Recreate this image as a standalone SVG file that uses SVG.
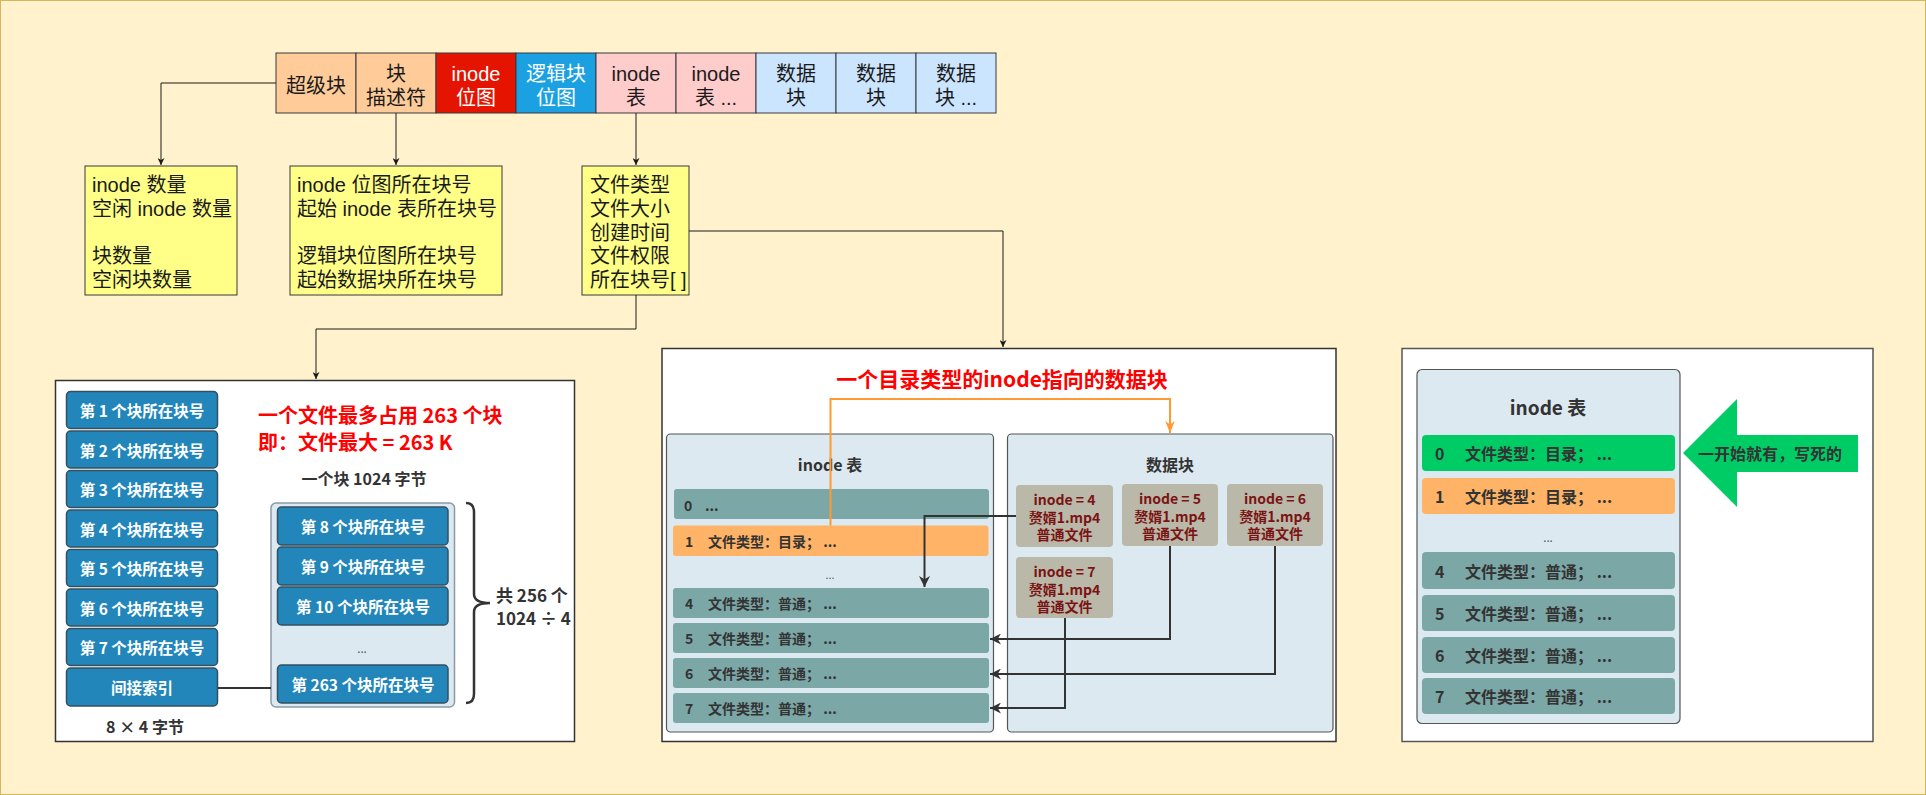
<svg xmlns="http://www.w3.org/2000/svg" width="1926" height="795" viewBox="0 0 1926 795">
<defs>
<style>
.top{font-family:"Liberation Sans","Noto Sans CJK SC",sans-serif;font-size:20px;fill:#1a1a1a}
.w{fill:#ffffff}
.cell{stroke:#36393d;stroke-width:1}
.ybox{fill:#ffff88;stroke:#36393d;stroke-width:1}
.ln{fill:none;stroke:#1a1a1a;stroke-width:1}
.b{font-family:"Noto Sans CJK SC","Noto Sans",sans-serif;font-weight:bold;fill:#333333}
.blue{fill:#2286ba;stroke:#34505f;stroke-width:1.5}
.bt{font-family:"Noto Sans CJK SC","Noto Sans",sans-serif;font-weight:bold;font-size:15.5px;fill:#ffffff}
.panel{fill:#ffffff;stroke:#333333;stroke-width:1.5}
.tbl{fill:#dce9f1;stroke:#555555;stroke-width:1.2}
.teal{fill:#7ba7a7}
.org{fill:#ffb366}
.grn{fill:#00cc66}
.dbox{fill:#bab8a8}
.dt{font-family:"Noto Sans CJK SC","Noto Sans",sans-serif;font-weight:bold;font-size:14px;fill:#7a1414}
.conn{fill:none;stroke:#333333;stroke-width:2}
</style>
<marker id="ar" viewBox="0 0 10 10" refX="10" refY="5" markerWidth="7" markerHeight="7" markerUnits="userSpaceOnUse" orient="auto"><path d="M0,0 L10,5 L0,10 L3,5 z" fill="#1a1a1a"/></marker>
<marker id="ar2" viewBox="0 0 10 10" refX="10" refY="5" markerWidth="11" markerHeight="11" markerUnits="userSpaceOnUse" orient="auto"><path d="M0,0 L10,5 L0,10 L3,5 z" fill="#333333"/></marker>
<marker id="aro" viewBox="0 0 10 10" refX="10" refY="5" markerWidth="14" markerHeight="12" markerUnits="userSpaceOnUse" orient="auto"><path d="M0,1 L10,5 L0,9 L3,5 z" fill="#ff9933"/></marker>
</defs>
<rect x="0.5" y="0.5" width="1925" height="794" fill="#fff2cc" stroke="#d6b656" stroke-width="1"/>

<g id="strip">
<rect class="cell" x="276" y="53" width="80" height="60" fill="#ffcc99"/>
<rect class="cell" x="356" y="53" width="80" height="60" fill="#ffcc99"/>
<rect class="cell" x="436" y="53" width="80" height="60" fill="#e51400"/>
<rect class="cell" x="516" y="53" width="80" height="60" fill="#1ba1e2"/>
<rect class="cell" x="596" y="53" width="80" height="60" fill="#ffcccc"/>
<rect class="cell" x="676" y="53" width="80" height="60" fill="#ffcccc"/>
<rect class="cell" x="756" y="53" width="80" height="60" fill="#cce5ff"/>
<rect class="cell" x="836" y="53" width="80" height="60" fill="#cce5ff"/>
<rect class="cell" x="916" y="53" width="80" height="60" fill="#cce5ff"/>
<g class="top" text-anchor="middle" dominant-baseline="central">
<text x="316" y="86">超级块</text>
<text x="396" y="74">块</text><text x="396" y="98">描述符</text>
<text class="top w" x="476" y="74">inode</text><text class="top w" x="476" y="98">位图</text>
<text class="top w" x="556" y="74">逻辑块</text><text class="top w" x="556" y="98">位图</text>
<text x="636" y="74">inode</text><text x="636" y="98">表</text>
<text x="716" y="74">inode</text><text x="716" y="98">表 ...</text>
<text x="796" y="74">数据</text><text x="796" y="98">块</text>
<text x="876" y="74">数据</text><text x="876" y="98">块</text>
<text x="956" y="74">数据</text><text x="956" y="98">块 ...</text>
</g>
</g>

<g id="superblock-info">
<rect class="ybox" x="85" y="166" width="152" height="129"/>
<g class="top" dominant-baseline="central">
<text x="92" y="185">inode 数量</text>
<text x="92" y="208.8">空闲 inode 数量</text>
<text x="92" y="256.4">块数量</text>
<text x="92" y="280.2">空闲块数量</text>
</g>
</g>

<g id="desc-info">
<rect class="ybox" x="290" y="166" width="212" height="129"/>
<g class="top" dominant-baseline="central">
<text x="297" y="185">inode 位图所在块号</text>
<text x="297" y="208.8">起始 inode 表所在块号</text>
<text x="297" y="256.4">逻辑块位图所在块号</text>
<text x="297" y="280.2">起始数据块所在块号</text>
</g>
</g>

<g id="inode-info">
<rect class="ybox" x="582" y="166" width="107" height="129"/>
<g class="top" dominant-baseline="central">
<text x="590" y="185">文件类型</text>
<text x="590" y="208.8">文件大小</text>
<text x="590" y="232.6">创建时间</text>
<text x="590" y="256.4">文件权限</text>
<text x="590" y="280.2">所在块号[ ]</text>
</g>
</g>

<g id="top-connectors">
<path class="ln" d="M276,83 H161 V165" marker-end="url(#ar)"/>
<path class="ln" d="M396,113 V165" marker-end="url(#ar)"/>
<path class="ln" d="M636,113 V165" marker-end="url(#ar)"/>
<path class="ln" d="M689,231 H1003 V347" marker-end="url(#ar)"/>
<path class="ln" d="M636,295 V329 H316 V379" marker-end="url(#ar)"/>
</g>

<g id="panel1">
<rect class="panel" x="55.5" y="380.5" width="519" height="361"/>
<g id="direct-blocks">
<rect class="blue" x="66.5" y="391.5" width="151" height="37" rx="4"/>
<rect class="blue" x="66.5" y="431" width="151" height="37" rx="4"/>
<rect class="blue" x="66.5" y="470.5" width="151" height="37" rx="4"/>
<rect class="blue" x="66.5" y="510" width="151" height="37" rx="4"/>
<rect class="blue" x="66.5" y="549.5" width="151" height="37" rx="4"/>
<rect class="blue" x="66.5" y="589" width="151" height="37" rx="4"/>
<rect class="blue" x="66.5" y="628.5" width="151" height="37" rx="4"/>
<rect class="blue" x="66.5" y="668" width="151" height="38" rx="4"/>
<g class="bt" text-anchor="middle" dominant-baseline="central">
<text x="142" y="410">第 1 个块所在块号</text>
<text x="142" y="449.5">第 2 个块所在块号</text>
<text x="142" y="489">第 3 个块所在块号</text>
<text x="142" y="528.5">第 4 个块所在块号</text>
<text x="142" y="568">第 5 个块所在块号</text>
<text x="142" y="607.5">第 6 个块所在块号</text>
<text x="142" y="647">第 7 个块所在块号</text>
<text x="142" y="687">间接索引</text>
</g>
</g>
<text class="b" x="145" y="726" font-size="16" text-anchor="middle" dominant-baseline="central">8 × 4 字节</text>
<g font-family="Noto Sans CJK SC, Noto Sans, sans-serif" font-weight="bold" font-size="20" fill="#ff0000" dominant-baseline="central">
<text x="258" y="414">一个文件最多占用 263 个块</text>
<text x="258" y="441">即：文件最大 = 263 K</text>
</g>
<text class="b" x="364" y="478" font-size="16" text-anchor="middle" dominant-baseline="central">一个块 1024 字节</text>
<g id="indirect-block">
<rect x="271" y="503" width="183.5" height="204" rx="5" fill="#dce9f1" stroke="#8a9aa6" stroke-width="1.5"/>
<rect class="blue" x="277.5" y="507" width="170.5" height="38" rx="4"/>
<rect class="blue" x="277.5" y="547" width="170.5" height="38" rx="4"/>
<rect class="blue" x="277.5" y="587" width="170.5" height="38" rx="4"/>
<rect class="blue" x="277.5" y="665" width="170.5" height="38" rx="4"/>
<g class="bt" text-anchor="middle" dominant-baseline="central">
<text x="363" y="526">第 8 个块所在块号</text>
<text x="363" y="566">第 9 个块所在块号</text>
<text x="363" y="606">第 10 个块所在块号</text>
<text x="363" y="684">第 263 个块所在块号</text>
</g>
<text x="362" y="648" font-family="Noto Sans, sans-serif" font-size="12" fill="#555555" text-anchor="middle" dominant-baseline="central">...</text>
</g>
<path d="M466,503 Q474,503 474,512 V594 Q474,603 490,603 Q474,603 474,612 V694 Q474,703 466,703" fill="none" stroke="#333333" stroke-width="2.5"/>
<g class="b" font-size="17" dominant-baseline="central">
<text x="496" y="594">共 256 个</text>
<text x="496" y="617">1024 ÷ 4</text>
</g>
<path d="M218,688 H271" fill="none" stroke="#333333" stroke-width="2"/>
</g>

<g id="panel2">
<rect class="panel" x="662" y="348.5" width="674" height="393"/>
<text x="1002" y="378" font-family="Noto Sans CJK SC, Noto Sans, sans-serif" font-weight="bold" font-size="21" fill="#ff0000" text-anchor="middle" dominant-baseline="central">一个目录类型的inode指向的数据块</text>
<g id="p2-inode-table">
<rect class="tbl" x="666.5" y="434" width="327" height="298" rx="4"/>
<text class="b" x="830" y="464" font-size="16" text-anchor="middle" dominant-baseline="central">inode 表</text>
<rect class="teal" x="674" y="489" width="315" height="30" rx="3"/>
<rect class="org" x="673" y="525.5" width="315.5" height="30.5" rx="3"/>
<text x="830" y="574" font-family="Noto Sans, sans-serif" font-size="11" fill="#555555" text-anchor="middle" dominant-baseline="central">...</text>
<rect class="teal" x="673" y="588" width="316" height="30" rx="3"/>
<rect class="teal" x="673" y="623" width="316" height="30" rx="3"/>
<rect class="teal" x="673" y="658" width="316" height="30" rx="3"/>
<rect class="teal" x="673" y="693" width="316" height="30" rx="3"/>
<g class="b" font-size="14" dominant-baseline="central">
<text x="684" y="505">0</text><text x="705" y="505">...</text>
<text x="685" y="541">1</text><text x="708" y="541">文件类型：目录； ...</text>
<text x="685" y="603">4</text><text x="708" y="603">文件类型：普通； ...</text>
<text x="685" y="638">5</text><text x="708" y="638">文件类型：普通； ...</text>
<text x="685" y="673">6</text><text x="708" y="673">文件类型：普通； ...</text>
<text x="685" y="708">7</text><text x="708" y="708">文件类型：普通； ...</text>
</g>
</g>
<g id="p2-data-blocks">
<rect class="tbl" x="1007.5" y="434" width="325.5" height="298" rx="4"/>
<text class="b" x="1170" y="464" font-size="16" text-anchor="middle" dominant-baseline="central">数据块</text>
<rect class="dbox" x="1016" y="485" width="97" height="62" rx="4"/>
<rect class="dbox" x="1122" y="484" width="96" height="62" rx="4"/>
<rect class="dbox" x="1227" y="484" width="96" height="62" rx="4"/>
<rect class="dbox" x="1016" y="557" width="97" height="61" rx="4"/>
<g class="dt" text-anchor="middle" dominant-baseline="central">
<text x="1064.5" y="499">inode = 4</text><text x="1064.5" y="516.5">赘婿1.mp4</text><text x="1064.5" y="533.5">普通文件</text>
<text x="1170" y="498">inode = 5</text><text x="1170" y="515.5">赘婿1.mp4</text><text x="1170" y="532.5">普通文件</text>
<text x="1275" y="498">inode = 6</text><text x="1275" y="515.5">赘婿1.mp4</text><text x="1275" y="532.5">普通文件</text>
<text x="1064.5" y="571">inode = 7</text><text x="1064.5" y="588.5">赘婿1.mp4</text><text x="1064.5" y="605.5">普通文件</text>
</g>
</g>
<g id="p2-connectors">
<path d="M830.5,525.5 V399 H1170 V433" fill="none" stroke="#ff9933" stroke-width="2" marker-end="url(#aro)"/>
<path class="conn" d="M1016,516 H924.5 V587" marker-end="url(#ar2)"/>
<path class="conn" d="M1170,546 V639 H990" marker-end="url(#ar2)"/>
<path class="conn" d="M1275,546 V674 H990" marker-end="url(#ar2)"/>
<path class="conn" d="M1065,618 V708 H990" marker-end="url(#ar2)"/>
</g>
</g>

<g id="panel3">
<rect x="1402" y="348.5" width="471" height="393" fill="#ffffff" stroke="#555555" stroke-width="1.5"/>
<g id="p3-inode-table">
<rect class="tbl" x="1417" y="369.5" width="263" height="354" rx="5"/>
<text class="b" x="1548" y="406" font-size="19" text-anchor="middle" dominant-baseline="central">inode 表</text>
<rect class="grn" x="1422" y="435" width="253" height="36" rx="4"/>
<rect class="org" x="1422" y="478" width="253" height="36" rx="4"/>
<text x="1548" y="537" font-family="Noto Sans, sans-serif" font-size="12" fill="#555555" text-anchor="middle" dominant-baseline="central">...</text>
<rect class="teal" x="1422" y="552" width="253" height="37" rx="4"/>
<rect class="teal" x="1422" y="595" width="253" height="36" rx="4"/>
<rect class="teal" x="1422" y="637" width="253" height="36" rx="4"/>
<rect class="teal" x="1422" y="678" width="253" height="36" rx="4"/>
<g class="b" font-size="16" dominant-baseline="central">
<text x="1435" y="453">0</text><text x="1465" y="453">文件类型：目录； ...</text>
<text x="1435" y="496">1</text><text x="1465" y="496">文件类型：目录； ...</text>
<text x="1435" y="570.5">4</text><text x="1465" y="570.5">文件类型：普通； ...</text>
<text x="1435" y="613">5</text><text x="1465" y="613">文件类型：普通； ...</text>
<text x="1435" y="655">6</text><text x="1465" y="655">文件类型：普通； ...</text>
<text x="1435" y="696">7</text><text x="1465" y="696">文件类型：普通； ...</text>
</g>
</g>
<g id="p3-arrow">
<polygon points="1683,453 1737,399 1737,435 1858,435 1858,472 1737,472 1737,507" fill="#00cc66"/>
<text class="b" x="1770" y="453" font-size="16" text-anchor="middle" dominant-baseline="central">一开始就有，写死的</text>
</g>
</g>
</svg>
